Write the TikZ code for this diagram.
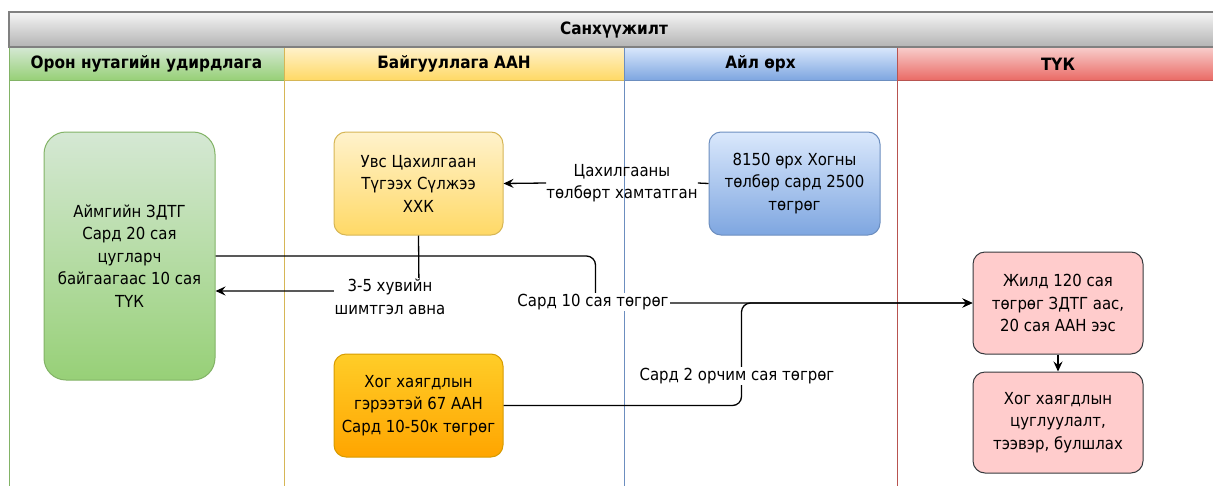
\documentclass[tikz,border=0pt]{standalone}
\usepackage{fontspec}
\setmainfont{DejaVu Sans Condensed}
\usetikzlibrary{arrows.meta}

\definecolor{grnline}{HTML}{82B366}
\definecolor{grntop}{HTML}{D5E8D4}
\definecolor{grnbot}{HTML}{97D077}
\definecolor{ylwline}{HTML}{D6B656}
\definecolor{ylwtop}{HTML}{FFF2CC}
\definecolor{ylwbot}{HTML}{FFD966}
\definecolor{bluline}{HTML}{6C8EBF}
\definecolor{blutop}{HTML}{DAE8FC}
\definecolor{blubot}{HTML}{7EA6E0}
\definecolor{redline}{HTML}{B85450}
\definecolor{redtop}{HTML}{F8CECC}
\definecolor{redbot}{HTML}{EA6B66}
\definecolor{orgline}{HTML}{D79B00}
\definecolor{orgtop}{HTML}{FFCD28}
\definecolor{orgbot}{HTML}{FFA500}
\definecolor{pinkfill}{HTML}{FFCCCC}
\definecolor{darkline}{HTML}{36393D}
\definecolor{grytop}{HTML}{F5F5F5}
\definecolor{grybot}{HTML}{B3B3B3}
\definecolor{gryline}{HTML}{808080}

\tikzset{
  box/.style={draw, rounded corners=12pt, align=center, inner sep=0pt, line width=1pt},
  flow/.style={line width=1.3pt, -{Stealth[length=10pt,width=9pt,inset=3.5pt]}},
  plain/.style={line width=1.3pt},
  lbl/.style={fill=white, align=center, inner sep=1pt},
  lanehead/.style={font=\fontsize{17}{20}\selectfont\bfseries},
}

\begin{document}
\begin{tikzpicture}[x=1pt, y=-1pt, font=\fontsize{16.6}{22.5}\selectfont]
    \useasboundingbox (0,0) rectangle (1213,485);
    \clip (0,0) rectangle (1213,485);
    % swimlanes
    \draw[grnline, line width=1pt] (9,47) rectangle (284,500);
    \draw[grnline, line width=1pt, top color=grntop, bottom color=grnbot] (9,47) rectangle (284,80);
    \draw[ylwline, line width=1pt] (284,47) rectangle (624,500);
    \draw[ylwline, line width=1pt, top color=ylwtop, bottom color=ylwbot] (284,47) rectangle (624,80);
    \draw[bluline, line width=1pt] (624,47) rectangle (897,500);
    \draw[bluline, line width=1pt, top color=blutop, bottom color=blubot] (624,47) rectangle (897,80);
    \draw[redline, line width=1pt] (897,47) rectangle (1219,500);
    \draw[redline, line width=1pt, top color=redtop, bottom color=redbot] (897,47) rectangle (1219,80);
    \draw[gryline, line width=1.5pt, top color=grytop, bottom color=grybot] (9,12) rectangle (1219,47);
    \node[lanehead] (pool) at (614,30) {Санхүүжилт};
    \node[lanehead] (lane1) at (146.5,64) {Орон нутагийн удирдлага};
    \node[lanehead] (lane2) at (454,64) {Байгууллага ААН};
    \node[lanehead] (lane3) at (760.5,64) {Айл өрх};
    \node[lanehead] (lane4) at (1058,64) {ТҮК};

    % boxes
    \node[box, rounded corners=22pt, minimum width=171pt, minimum height=248pt, draw=grnline, top color=grntop, bottom color=grnbot] (aimag) at (129.5,256) {Аймгийн ЗДТГ\\Сард 20 сая\\цугларч\\байгаагаас 10 сая\\ТҮК};
    \node[box, minimum width=169pt, minimum height=103pt, draw=ylwline, top color=ylwtop, bottom color=ylwbot] (uvs) at (418.5,183.5) {Увс Цахилгаан\\Түгээх Сүлжээ\\ХХК};
    \node[box, minimum width=171pt, minimum height=103pt, draw=bluline, top color=blutop, bottom color=blubot] (orh) at (794.5,183.5) {8150 өрх Хогны\\төлбөр сард 2500\\төгрөг};
    \node[box, minimum width=169pt, minimum height=103pt, draw=orgline, top color=orgtop, bottom color=orgbot] (hog) at (418.5,405.5) {Хог хаягдлын\\гэрээтэй 67 ААН\\Сард 10-50к төгрөг};
    \node[box, minimum width=170pt, minimum height=102pt, draw=darkline, fill=pinkfill] (jild) at (1058,303) {Жилд 120 сая\\төгрөг ЗДТГ аас,\\20 сая ААН ээс};
    \node[box, minimum width=170pt, minimum height=101pt, draw=darkline, fill=pinkfill] (tsug) at (1058,422.5) {Хог хаягдлын\\цуглуулалт,\\тээвэр, булшлах};

    % connectors
    \node[align=center, inner sep=0pt] (l1) at (622,183) {Цахилгааны\\төлбөрт хамтатган};
    \draw[plain] (orh.west) -- (l1.east);
    \draw[flow] (l1.west) -- (uvs.east);

    \coordinate (k2) at (419,291);
    \draw[flow] (uvs.south) -- (k2) -- (k2 -| aimag.east);
    \node[lbl] (l2) at (390,297) {3-5 хувийн\\шимтгэл авна};

    \draw[flow, rounded corners=9pt] (aimag.east) -- ++(380,0) |- (jild.west);
    \draw[flow, rounded corners=9pt] (hog.east) -- ++(238,0) |- (jild.west);
    \node[lbl] (l3) at (593,302) {Сард 10 сая төгрөг};
    \node[lbl] (l4) at (737,376) {Сард 2 орчим сая төгрөг};

    \draw[flow] (jild.south) -- (tsug.north);
\end{tikzpicture}
\end{document}
